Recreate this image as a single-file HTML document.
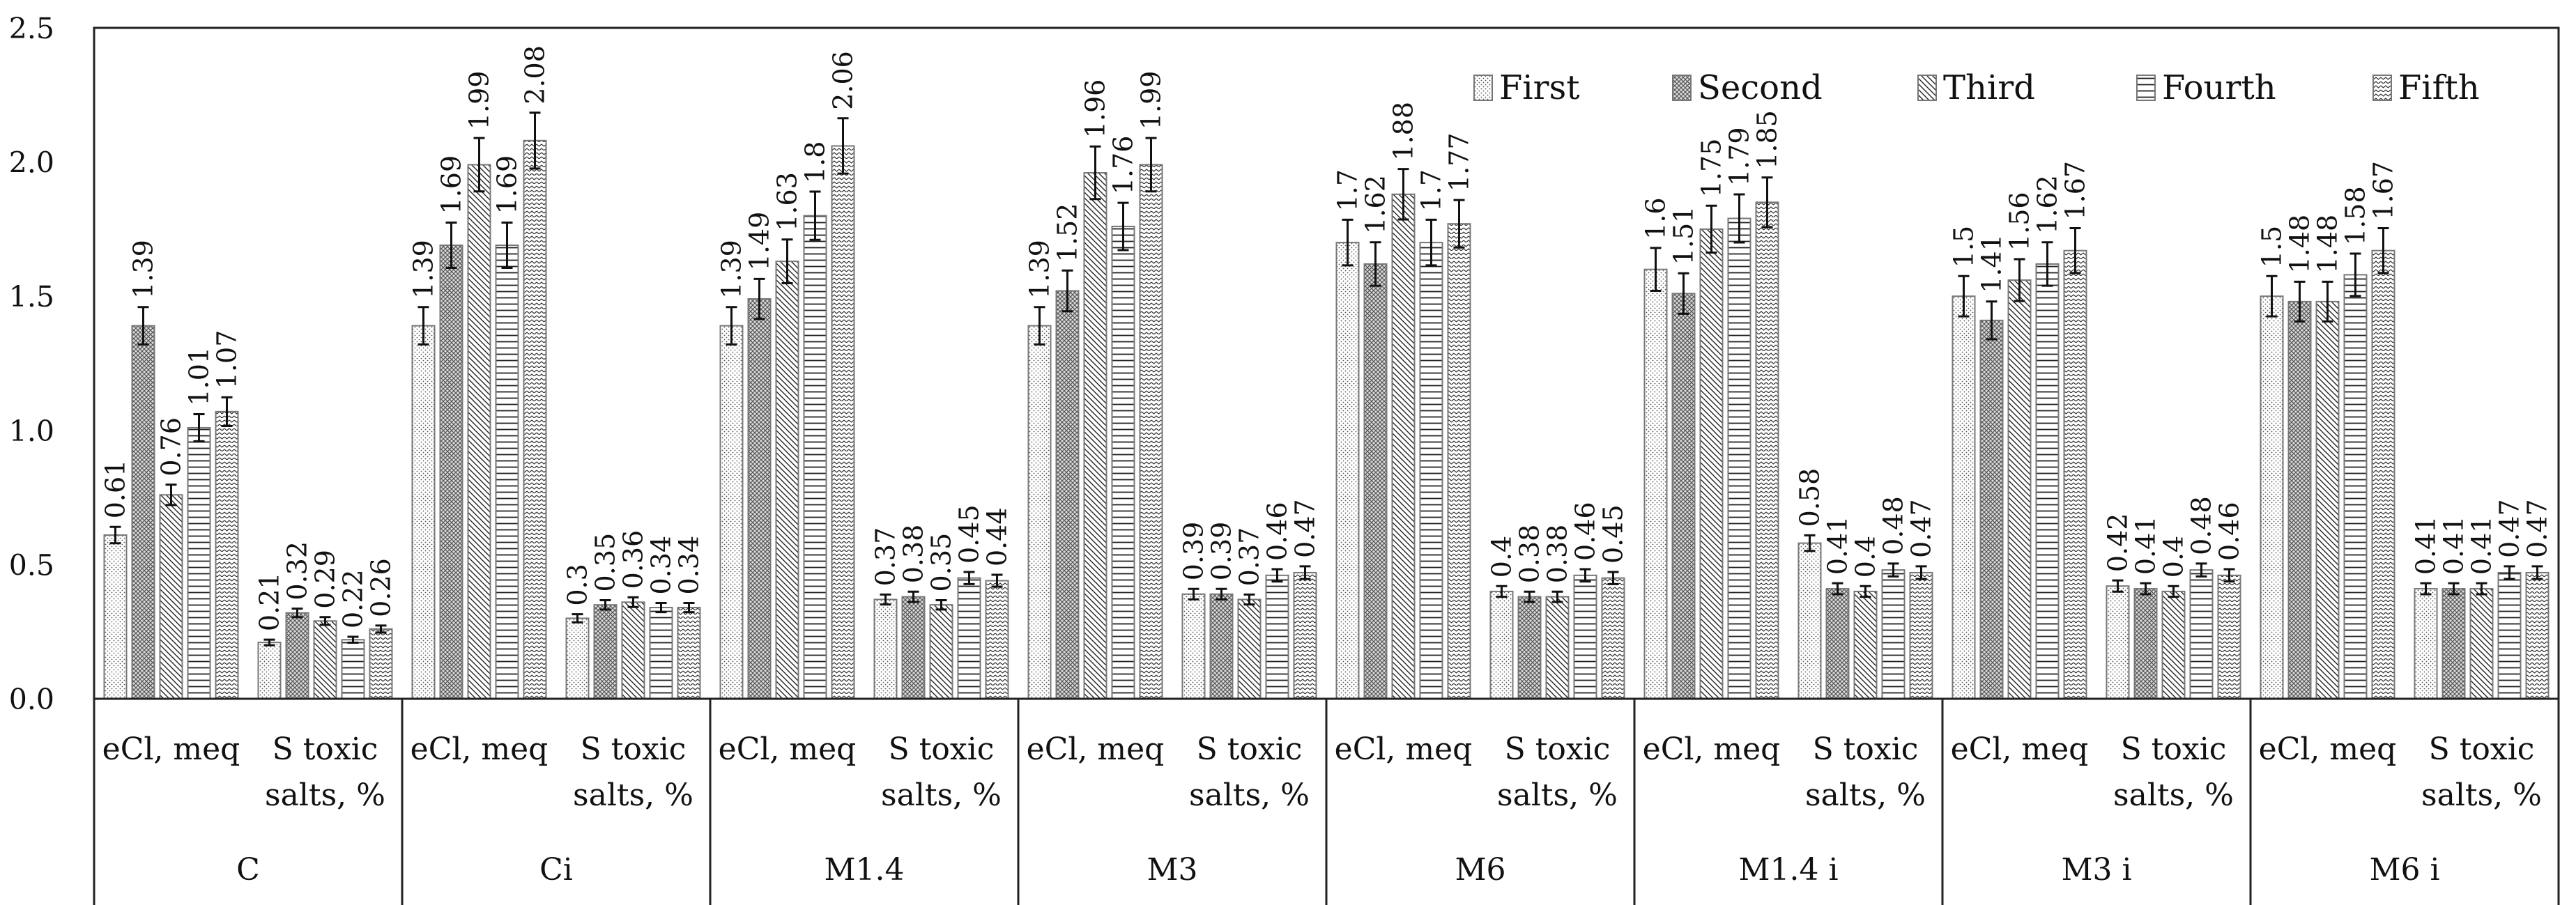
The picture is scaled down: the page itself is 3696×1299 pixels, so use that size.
<!DOCTYPE html>
<html><head><meta charset="utf-8"><style>
html,body{margin:0;padding:0;background:#fff;}
svg{display:block;}
svg text{font-family:"DejaVu Serif","Liberation Serif",serif;fill:#111;}
</style></head><body>
<svg id="chart" width="3696" height="1299" viewBox="0 0 3696 1299" xmlns="http://www.w3.org/2000/svg">
<defs>
<pattern id="p0" width="6" height="6" patternUnits="userSpaceOnUse"><rect width="6" height="6" fill="#fff"/><circle cx="1.5" cy="1.5" r="0.9" fill="#555"/><circle cx="4.5" cy="4.5" r="0.9" fill="#555"/></pattern>
<pattern id="p1" width="6" height="6" patternUnits="userSpaceOnUse"><rect width="6" height="6" fill="#ddd"/><path d="M0 0L6 6M6 0L0 6" stroke="#555" stroke-width="1.2"/></pattern>
<pattern id="p2" width="8" height="8" patternUnits="userSpaceOnUse"><rect width="8" height="8" fill="#fff"/><path d="M0 0L8 8M-4 4L4 12M4 -4L12 4" stroke="#222" stroke-width="1.4"/></pattern>
<pattern id="p3" width="8" height="9" patternUnits="userSpaceOnUse"><rect width="8" height="9" fill="#fff"/><path d="M0 4.5H8" stroke="#222" stroke-width="1.8"/></pattern>
<pattern id="p4" width="14" height="12" patternUnits="userSpaceOnUse"><rect width="14" height="12" fill="#fff"/><path d="M0 3L3.5 6L7 3L10.5 6L14 3M0 9L3.5 12L7 9L10.5 12L14 9" stroke="#333" stroke-width="1.2" fill="none"/></pattern>
</defs>
<g id="layer"></g>
</svg>
<script>
const groups = ["C","Ci","M1.4","M3","M6","M1.4 i","M3 i","M6 i"];
const subcats = ["eCl, meq","S toxic|salts, %"];
const seriesNames = ["First","Second","Third","Fourth","Fifth"];
const eclValues = [
 [0.61,1.39,0.76,1.01,1.07],
 [1.39,1.69,1.99,1.69,2.08],
 [1.39,1.49,1.63,1.8,2.06],
 [1.39,1.52,1.96,1.76,1.99],
 [1.7,1.62,1.88,1.7,1.77],
 [1.6,1.51,1.75,1.79,1.85],
 [1.5,1.41,1.56,1.62,1.67],
 [1.5,1.48,1.48,1.58,1.67]];
const saltValues = [
 [0.21,0.32,0.29,0.22,0.26],
 [0.3,0.35,0.36,0.34,0.34],
 [0.37,0.38,0.35,0.45,0.44],
 [0.39,0.39,0.37,0.46,0.47],
 [0.4,0.38,0.38,0.46,0.45],
 [0.58,0.41,0.4,0.48,0.47],
 [0.42,0.41,0.4,0.48,0.46],
 [0.41,0.41,0.41,0.47,0.47]];
const yTicks = ["0.0","0.5","1.0","1.5","2.0","2.5"];
const errFraction = 0.05;

const NS="http://www.w3.org/2000/svg";
const L=135,R=3671,T=40,B=1003,yMax=2.5;
const gw=(R-L)/groups.length, sw=gw/2, bw=32, pitch=40;
const y=v=>B-v/yMax*(B-T);
const layer=document.getElementById('layer');
function mk(tag,attrs,parent){const e=document.createElementNS(NS,tag);for(const k in attrs)e.setAttribute(k,attrs[k]);(parent||layer).appendChild(e);return e;}

yTicks.forEach(t=>{
 const e=mk('text',{x:78,y:y(parseFloat(t))+15,'text-anchor':'end','font-size':41});
 e.textContent=t;
 
 
});

groups.forEach((g,gi)=>{
 const gx=L+gi*gw;
 [eclValues[gi],saltValues[gi]].forEach((vals,si)=>{
  const sx=gx+si*sw;
  const x0=sx+(sw-(4*pitch+bw))/2;
  vals.forEach((v,k)=>{
   const bx=x0+k*pitch, top=y(v);
   const r=mk('rect',{x:bx,y:top,width:bw,height:B-top,fill:'url(#p'+k+')',stroke:'#777','stroke-width':2});
   
   
   const e=v*errFraction, cx=bx+bw/2, y1=y(v+e), y2=y(v-e);
   const eb=mk('path',{d:`M${cx} ${y1}V${y2}M${cx-8} ${y1}H${cx+8}M${cx-8} ${y2}H${cx+8}`,stroke:'#111','stroke-width':3,fill:'none'});
   
   
   const tx=cx+13, ty=y1-12;
   const lb=mk('text',{x:tx,y:ty,'font-size':38,transform:`rotate(-90 ${tx} ${ty})`});
   lb.textContent=String(v);
   
   
  });
  const parts=subcats[si].split('|');
  parts.forEach((p,pi)=>{
   const st=mk('text',{x:sx+sw/2,y:1090+pi*66,'text-anchor':'middle','font-size':44});
   st.textContent=p;
   
   
  });
 });
 const ct=mk('text',{x:gx+gw/2,y:1263,'text-anchor':'middle','font-size':44});
 ct.textContent=g;
 
 
});
for(let i=0;i<=groups.length;i++){
 const x=L+i*gw;
 const ln=mk('line',{x1:x,x2:x,y1:B,y2:1299,stroke:'#222','stroke-width':3});
 
 
}
const frame=mk('path',{d:`M${L} ${B}V${T}H${R}V${B}`,stroke:'#222','stroke-width':3,fill:'none'});


const base=mk('line',{x1:L,x2:R,y1:B,y2:B,stroke:'#222','stroke-width':3});



const legX=[2115,2400,2752,3066,3405];
seriesNames.forEach((s,k)=>{
 const lg=mk('g',{});
 
 
 mk('rect',{x:legX[k],y:108,width:26,height:36,fill:'url(#p'+k+')',stroke:'#777','stroke-width':2},lg);
 const t=mk('text',{x:legX[k]+36,y:142,'font-size':48},lg);
 t.textContent=s;
});
</script>
</body></html>
